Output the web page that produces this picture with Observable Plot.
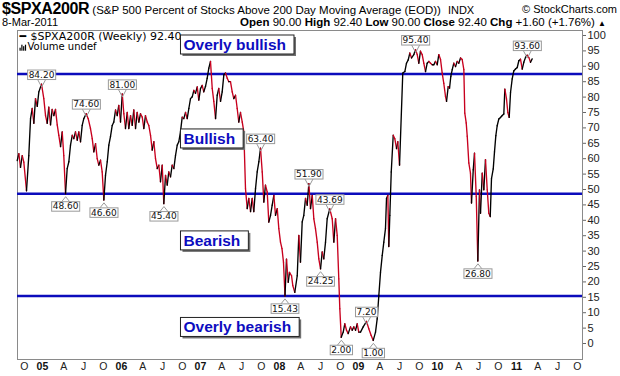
<!DOCTYPE html>
<html><head><meta charset="utf-8">
<script src="https://cdn.jsdelivr.net/npm/d3@7"></script>
<script src="https://cdn.jsdelivr.net/npm/@observablehq/plot@0.6"></script>
<style>
body{margin:0;background:#fff;}
#wrap{position:relative;width:620px;height:376px;overflow:hidden;font-family:"Liberation Sans",Arial,sans-serif;color:#000;}
#hdr{position:absolute;left:0;top:0;width:620px;height:30px;z-index:2;pointer-events:none;}
#hdr div{position:absolute;white-space:nowrap;}
</style></head>
<body>
<div id="wrap">
  <div id="hdr">
    <div style="left:2px;top:0px;"><span style="font-weight:bold;font-size:16px;letter-spacing:-0.4px">$SPXA200R</span><span style="font-size:11.5px"> (S&amp;P 500 Percent of Stocks Above 200 Day Moving Average (EOD))</span><span style="font-size:11px;margin-left:7px">INDX</span></div>
    <div style="right:3px;top:3px;font-size:11px;">© StockCharts.com</div>
    <div style="left:2px;top:16px;font-size:11px;">8-Mar-2011</div>
    <div style="right:14px;top:16px;font-size:11.5px;"><b>Open</b> 90.00 <b>High</b> 92.40 <b>Low</b> 90.00 <b>Close</b> 92.40 <b>Chg</b> +1.60 (+1.76%) <span style="font-size:8px">▲</span></div>
  </div>
  <div id="chart"></div>
</div>
<script>
// Weekly $SPXA200R readings (decimal year, percent)
const weekDates = [
2004.692,2004.713,2004.734,2004.756,2004.776,2004.810,2004.839,2004.861,2004.882,2004.903,2004.924,2004.946,2004.966,
2005.000,2005.029,2005.051,2005.072,2005.092,2005.114,2005.135,2005.156,2005.177,2005.199,2005.219,2005.241,2005.262,
2005.282,2005.304,2005.325,2005.346,2005.367,2005.389,2005.409,2005.430,2005.452,2005.472,2005.494,2005.515,2005.535,
2005.566,2005.591,2005.620,2005.642,2005.662,2005.684,2005.705,2005.725,2005.747,2005.768,2005.789,2005.810,2005.832,
2005.852,2005.873,2005.895,2005.915,2005.937,2005.958,2005.978,
2006.000,2006.022,2006.042,2006.063,2006.085,2006.105,2006.127,2006.148,2006.168,2006.190,2006.211,2006.232,2006.253,
2006.275,2006.295,2006.316,2006.338,2006.358,2006.380,2006.401,2006.422,2006.443,2006.465,2006.485,2006.506,2006.528,
2006.548,2006.570,2006.591,2006.611,2006.633,2006.654,2006.675,2006.696,2006.718,2006.738,2006.759,2006.781,2006.801,
2006.823,2006.844,2006.865,2006.886,2006.908,2006.928,2006.949,2006.971,2006.991,
2007.013,2007.034,2007.054,2007.076,2007.097,2007.118,2007.139,2007.161,2007.181,2007.203,2007.224,2007.244,2007.266,
2007.287,2007.308,2007.329,2007.351,2007.371,2007.392,2007.414,2007.434,2007.456,2007.477,2007.497,2007.519,2007.541,
2007.561,2007.582,2007.604,2007.624,2007.646,2007.667,2007.687,2007.709,2007.730,2007.751,2007.772,2007.794,2007.814,
2007.835,2007.857,2007.877,2007.899,2007.920,2007.941,2007.962,2007.984,
2008.004,2008.025,2008.044,2008.063,2008.082,2008.101,2008.123,2008.139,2008.165,2008.181,2008.206,2008.237,2008.257,
2008.278,2008.300,2008.320,2008.342,2008.363,2008.384,2008.405,2008.427,2008.447,2008.468,2008.490,2008.510,2008.532,
2008.553,2008.573,2008.595,2008.616,2008.649,2008.680,2008.700,2008.722,2008.743,2008.763,2008.776,2008.794,2008.819,
2008.839,2008.861,2008.882,2008.911,2008.933,2008.953,2008.975,2008.996,
2009.016,2009.038,2009.072,2009.114,2009.143,2009.173,2009.199,2009.228,2009.249,2009.270,2009.291,2009.313,2009.333,
2009.354,2009.367,2009.384,2009.396,2009.409,2009.427,2009.452,2009.472,2009.494,2009.510,2009.532,2009.573,2009.599,
2009.620,2009.642,2009.662,2009.684,2009.713,2009.734,2009.756,2009.776,2009.797,2009.819,2009.839,2009.861,2009.882,
2009.903,2009.924,2009.946,2009.966,2009.987,
2010.009,2010.029,2010.051,2010.072,2010.092,2010.114,2010.127,2010.148,2010.165,2010.181,2010.199,2010.219,2010.241,
2010.262,2010.282,2010.304,2010.325,2010.346,2010.358,2010.376,2010.389,2010.409,2010.430,2010.443,2010.465,2010.481,
2010.503,2010.523,2010.544,2010.557,2010.579,2010.599,2010.620,2010.642,2010.662,2010.680,2010.696,2010.718,2010.734,
2010.751,2010.768,2010.789,2010.810,2010.832,2010.852,2010.865,2010.886,2010.903,2010.920,2010.937,2010.958,2010.978,
2011.000,2011.022,2011.042,2011.063,2011.085,2011.105,2011.127,2011.148,2011.168,2011.190,2011.211
];
const pctAbove = [
59.4,61.6,57.2,61,58.9,49.6,61,73,76.3,71.5,79.5,77,81.7,
84.2,79.5,74,71.5,76.7,71,76,74,76,71,67.6,63.9,68.7,
61,48.6,56.8,59,64.4,67.6,66.5,68.7,66,68.7,65.5,70.8,73,
74.6,73,69.8,66.5,62.2,64.9,60,57.9,59.5,55.7,46.6,54.6,59,
64.4,67.2,70.8,71.9,75.8,74,77.3,
71.9,81,74.6,69.8,75,69.8,74,70.8,75.8,69.8,75,71.9,74.6,
73.5,69.8,74,71.9,70.8,67.6,62.8,65.5,60,56.8,57.9,52.5,57.9,
45.4,54.6,51.4,55.7,54.1,57.9,56.8,61,64.4,65.5,68.7,73.5,73,
75,73,76.3,79.5,80.1,82.2,81.2,83.3,79,
82.8,83.8,81.7,83.5,86.1,89.4,91.6,82.8,78.6,73,80.6,82.8,78.6,
81.7,87.2,87.8,86.1,85,85,81.7,79.5,80.6,76.3,71.9,75,71.9,
68.7,50.3,43.8,47.1,42.8,47.1,42.8,50.3,55.7,59,63.4,55.7,45.9,
51.4,49.2,39.4,41.6,44.9,48.1,41.6,43.8,
37.3,32.9,30.8,26.4,15.43,27.4,19.9,23.1,22,18.8,16.6,22,35.1,
26.4,39.5,41.6,47.1,44.9,51.9,43.8,48.1,40.5,37.3,32.9,27.5,24.25,
29.7,27.5,32.9,40.5,43.69,40.5,32.9,40.5,35.1,21,11.3,2.0,3.7,
6.4,4.3,3.2,5.4,4.3,5.4,4.3,6.4,
3.7,3.7,5.4,7.2,4.8,2.6,1.0,3.7,8,15.6,23.1,28.6,32.9,
37.3,47.1,48.1,31.5,41.6,55.7,67.6,66.5,63.3,65.5,57.9,87.8,88.3,
91,92.1,94.3,92.7,93.8,95.4,93.8,91,94.9,93.8,91,88.3,91,
91.6,91,90.5,90.5,91.6,
90.5,93.8,92.2,87.8,84.5,80.2,78.6,83.4,82.9,86.7,88.9,91,89.9,
91.6,91,92.7,92.2,88.9,74.8,71.6,67.3,58.6,55.3,45.6,56.4,61.8,
47.7,26.8,49.9,42.3,55.3,49.9,59.7,49.9,42.3,41.2,53.5,56.7,62.2,
67.5,70.7,72.9,73.4,74,74.5,82.6,79.4,75,73.4,81.5,85.9,88.5,
89.1,89.6,91.8,92.3,89.1,91.3,92.9,93.6,92.9,91.3,92.4
];

// Labelled highs / lows
const markDates  = [2005.000,2005.566,2005.304,2005.789,2006.022,2006.548,2007.772,2008.082,2008.384,2008.532,2008.649,2008.794,2009.114,2009.199,2009.734,2010.523,2011.148];
const markValues = [84.20,74.60,48.60,46.60,81.00,45.40,63.40,15.43,51.90,24.25,43.69,2.00,7.20,1.00,95.40,26.80,93.60];
const markSide   = ["above","above","below","below","above","below","above","below","above","below","above","below","above","below","above","below","above"];

// Zone thresholds and annotations
const zoneLines  = [87.5, 48.6, 15.43];
const zoneLabels = ["Overly bullish","Bullish","Bearish","Overly bearish"];
const zoneLabelY = [96.9, 66.4, 33.3, 5.2];
const zoneLabelX = 2006.797;

// Axis ticks
const yTicks = d3.range(0, 101, 5);
const tickYears = [2004,2005,2006,2007,2008,2009,2010,2011];
const quarterMonths = [4,7,10];
const quarterLetters = ["A","J","O"];

const xDomain = [2004.696, 2011.848];
const yDomain = [-5.19, 101.62];

const series = weekDates.map((t, i) => ({t, v: pctAbove[i]}));
const segs = d3.pairs(series).map(([a, b]) => ({t1: a.t, v1: a.v, t2: b.t, v2: b.v, up: b.v >= a.v}));
const marks = markDates.map((t, i) => ({t, v: markValues[i], side: markSide[i], label: markValues[i].toFixed(2)}));
const zones = zoneLabels.map((s, i) => ({s, t: zoneLabelX, v: zoneLabelY[i]}));

const monthTicks = [], monthLab = new Map();
for (const y of tickYears) quarterMonths.forEach((m, k) => {
  const p = +(y + (m - 1) / 12 + 0.032).toFixed(4);
  if (p > xDomain[0] && p < xDomain[1]) { monthTicks.push(p); monthLab.set(p, quarterLetters[k]); }
});
const yearTicks = [], yearLab = new Map();
for (const y of tickYears) { const p = y + 0.012; if (p > xDomain[0] && p < xDomain[1]) { yearTicks.push(p); yearLab.set(p, String(y).slice(2)); } }

const svg = Plot.plot({
  width: 620, height: 376,
  marginTop: 30, marginBottom: 17, marginLeft: 17, marginRight: 38,
  x: {type: "linear", domain: xDomain, axis: null},
  y: {domain: yDomain, axis: null},
  style: {fontFamily: "Liberation Sans, Arial, sans-serif", background: "transparent", overflow: "visible"},
  marks: [
    Plot.frame({stroke: "#8a8a8a"}),
    Plot.ruleY(zoneLines, {stroke: "#0c0cbc", strokeWidth: 2.5}),
    Plot.link(segs, {x1: "t1", y1: "v1", x2: "t2", y2: "v2", stroke: d => d.up ? "#000000" : "#c8001e", strokeWidth: 1.35, strokeLinecap: "round"}),
    Plot.text(marks, {x: "t", y: "v", text: "label", ariaDescription: "vlabels",
      fontFamily: "DejaVu Sans", fontSize: 9, fill: "#111", textAnchor: "middle", lineAnchor: "middle"}),
    Plot.text(["\u2501"], {frameAnchor: "top-left", dx: 2, dy: 5.5, text: d => d, textAnchor: "start", lineAnchor: "middle", fontSize: 11, fontFamily: "DejaVu Sans", fill: "#000"}),
    Plot.text(["$SPXA200R (Weekly) 92.40"], {frameAnchor: "top-left", dx: 13, dy: 5.5, text: d => d, textAnchor: "start", lineAnchor: "middle", fontSize: 11, fontFamily: "DejaVu Sans", fill: "#000"}),
    Plot.text(["Volume undef"], {frameAnchor: "top-left", dx: 10, dy: 16.5, text: d => d, ariaDescription: "vol", textAnchor: "start", lineAnchor: "middle", fontSize: 10, fontFamily: "DejaVu Sans", fill: "#000"}),
    Plot.text(zones, {x: "t", y: "v", text: "s", ariaDescription: "zones", textAnchor: "start", lineAnchor: "middle",
      fontSize: 15.5, fontWeight: "bold", fill: "#0d0dc0", fontFamily: "Liberation Sans, Arial, sans-serif"}),
    Plot.axisY(yTicks, {anchor: "right", tickSize: 3, tickPadding: 2, fontSize: 11, stroke: "#666", fill: "#222", tickFormat: d => String(d)}),
    Plot.axisX(monthTicks, {anchor: "bottom", tickSize: 0, tickPadding: 3, fontSize: 10.5, fill: "#222", tickFormat: d => monthLab.get(d)}),
    Plot.axisX(yearTicks, {anchor: "bottom", tickSize: 0, tickPadding: 3, fontSize: 10.5, fontWeight: "bold", fill: "#111", tickFormat: d => yearLab.get(d)})
  ]
});
document.getElementById("chart").appendChild(svg);

// Shift value labels above/below their points
const NS = "http://www.w3.org/2000/svg";
const vg = svg.querySelector('g[aria-description="vlabels"]');
if (vg) {
  vg.querySelectorAll("text").forEach((tx, i) => {
    tx.setAttribute("dy", "0");
    const off = marks[i].side === "above" ? -12.25 : 9.75;
    const tr = tx.getAttribute("transform");
    if (tr) tx.setAttribute("transform", tr + ` translate(0,${off})`);
    else tx.setAttribute("y", (+tx.getAttribute("y")) + off);
    tx.setAttribute("dominant-baseline", "central");
  });
}
function boxes(desc, draw) {
  const g = svg.querySelector(`g[aria-description="${desc}"]`);
  if (!g) return;
  const sr = svg.getBoundingClientRect();
  const layer = document.createElementNS(NS, "g");
  g.parentNode.insertBefore(layer, g);
  g.querySelectorAll("text").forEach((tx, i) => {
    const r = tx.getBoundingClientRect();
    draw(layer, r.left - sr.left, r.top - sr.top, r.width, r.height, i);
  });
}
function el(parent, name, attrs) {
  const e = document.createElementNS(NS, name);
  for (const k in attrs) e.setAttribute(k, attrs[k]);
  parent.appendChild(e); return e;
}
boxes("vlabels", (layer, x, y, w, h, i) => {
  const cx = x + w / 2, cy = y + h / 2;
  if (marks[i].side === "above")
    el(layer, "path", {d: `M${cx - 4},${cy + 4.75}L${cx},${cy + 12.25}L${cx + 4},${cy + 4.75}`, fill: "none", stroke: "#9a9a9a", "stroke-width": 1});
  else
    el(layer, "path", {d: `M${cx - 4},${cy - 4.75}L${cx},${cy - 9.75}L${cx + 4},${cy - 4.75}`, fill: "none", stroke: "#9a9a9a", "stroke-width": 1});
  el(layer, "rect", {x: x - 1, y: cy - 4.75, width: w + 2, height: 9.5, fill: "#fff", stroke: "#9a9a9a", "stroke-width": 1});
});
boxes("zones", (layer, x, y, w, h, i) => {
  const cy = y + h / 2;
  el(layer, "rect", {x: x - 3 + 2, y: cy - 9.5 + 2, width: w + 11, height: 19, fill: "#707070"});
  el(layer, "rect", {x: x - 3, y: cy - 9.5, width: w + 11, height: 19, fill: "#fff", stroke: "#222", "stroke-width": 1});
});
// small volume-bar legend glyph to the left of "Volume undef"
boxes("vol", (layer, x, y, w, h) => {
  const base = y + h / 2 + 4;
  [3, 6, 4.5, 6].forEach((bh, k) => el(layer, "rect", {x: x - 8 + k * 1.8, y: base - bh, width: 1.2, height: bh, fill: "#000"}));
});
</script>
</body></html>
